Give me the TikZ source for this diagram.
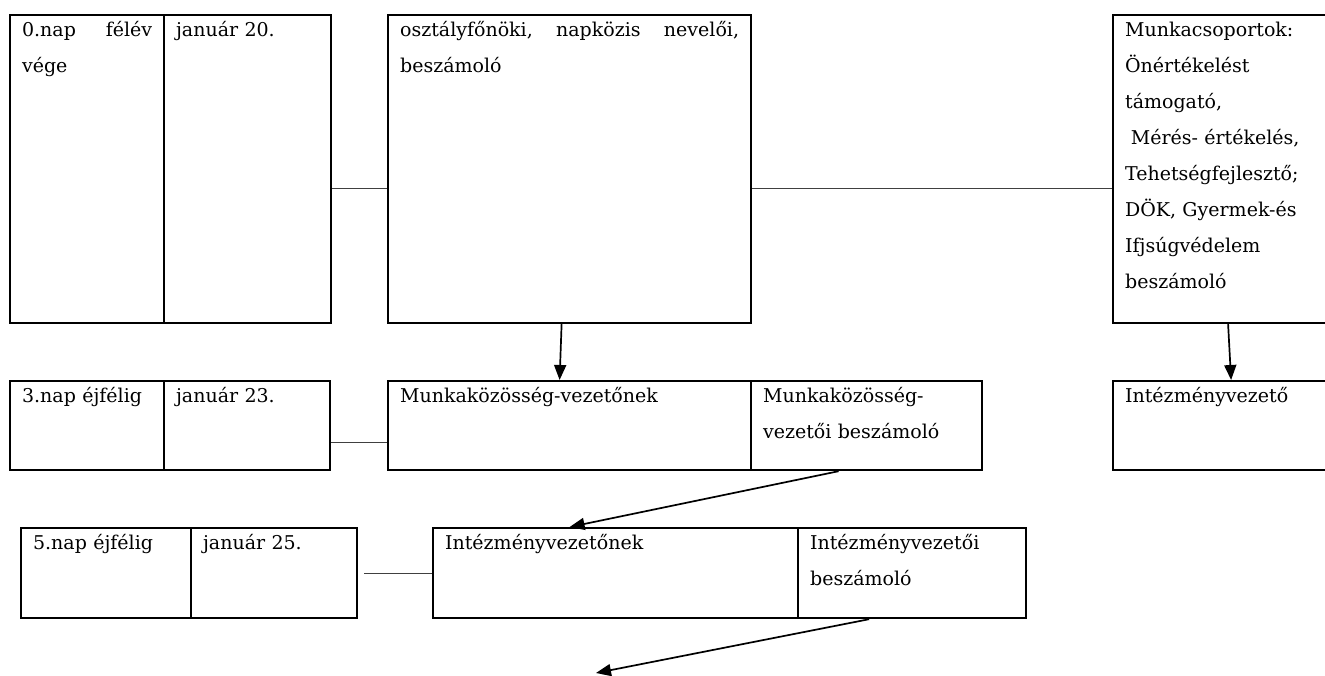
\documentclass[tikz,border=0pt]{standalone}
\usepackage{fontspec}
\setmainfont{DejaVu Serif}
\usetikzlibrary{arrows.meta, positioning}

\tikzset{
  cell/.style={draw, rectangle, line width=2.2pt, anchor=north west, inner xsep=12pt, inner ysep=4pt, text height=17pt, align=left, font=\fontsize{19pt}{36pt}\selectfont},
  tall/.style={cell, text depth=283pt},
  low/.style={cell, text depth=64pt},
  lower/.style={cell, text depth=65pt},
  link/.style={line width=1pt, black!75},
  flow/.style={line width=1.7pt, -{Triangle[length=15pt,width=12pt]}}
}

\begin{document}
\begin{tikzpicture}[x=1pt, y=-1pt]
\useasboundingbox (0,0) rectangle (1325,675);

% First row: half-year end
\node[tall, text width=130pt] (day0) at (9,14) {0.nap \hfill félév\\vége};
\node[tall, text width=143pt] (date0) at (163,14) {január 20.};
\node[tall, text width=339pt] (class) at (387,14) {osztályfőnöki, \hfill napközis \hfill nevelői,\\beszámoló};
\node[tall, text width=196pt] (groups) at (1112,14) {Munkacsoportok:\\Önértékelést\\támogató,\\\hspace{0.3em}Mérés- értékelés,\\Tehetségfejlesztő;\\DÖK, Gyermek-és\\Ifjsúgvédelem\\beszámoló};

% Second row
\node[low, text width=130pt] (day3) at (9,380) {3.nap éjfélig};
\node[low, text width=142pt] (date3) at (163,380) {január 23.};
\node[low, text width=339pt] (toleader) at (387,380) {Munkaközösség-vezetőnek};
\node[low, text width=207pt] (leaderrep) at (750,380) {Munkaközösség-\\vezetői beszámoló};
\node[low, text width=196pt] (head) at (1112,380) {Intézményvezető};

% Third row
\node[lower, text width=146pt] (day5) at (20,527) {5.nap éjfélig};
\node[lower, text width=142pt] (date5) at (190,527) {január 25.};
\node[lower, text width=341pt] (tohead) at (432,527) {Intézményvezetőnek};
\node[lower, text width=204pt] (headrep) at (797,527) {Intézményvezetői\\beszámoló};

\coordinate (next) at (596,673);

% Plain links between the columns
\draw[link] ([yshift=-19pt]date0.east) -- ([yshift=-19pt]class.west);
\draw[link] ([yshift=-19pt]class.east) -- ([yshift=-19pt]groups.west);
\draw[link] ([yshift=-17pt]date3.east) -- ([yshift=-17pt]toleader.west);
\draw[link] ([xshift=6pt]date5.east) -- (tohead.west);

% Reports passed on
\draw[flow] ([xshift=-8pt]class.south) -- ([xshift=-10pt]toleader.north);
\draw[flow] ([xshift=5pt]groups.south) -- ([xshift=8pt]head.north);
\draw[flow] ([xshift=-28pt]leaderrep.south) -- ([xshift=-46pt]tohead.north);
\draw[flow] ([xshift=-43pt]headrep.south) -- (next);
\end{tikzpicture}
\end{document}
